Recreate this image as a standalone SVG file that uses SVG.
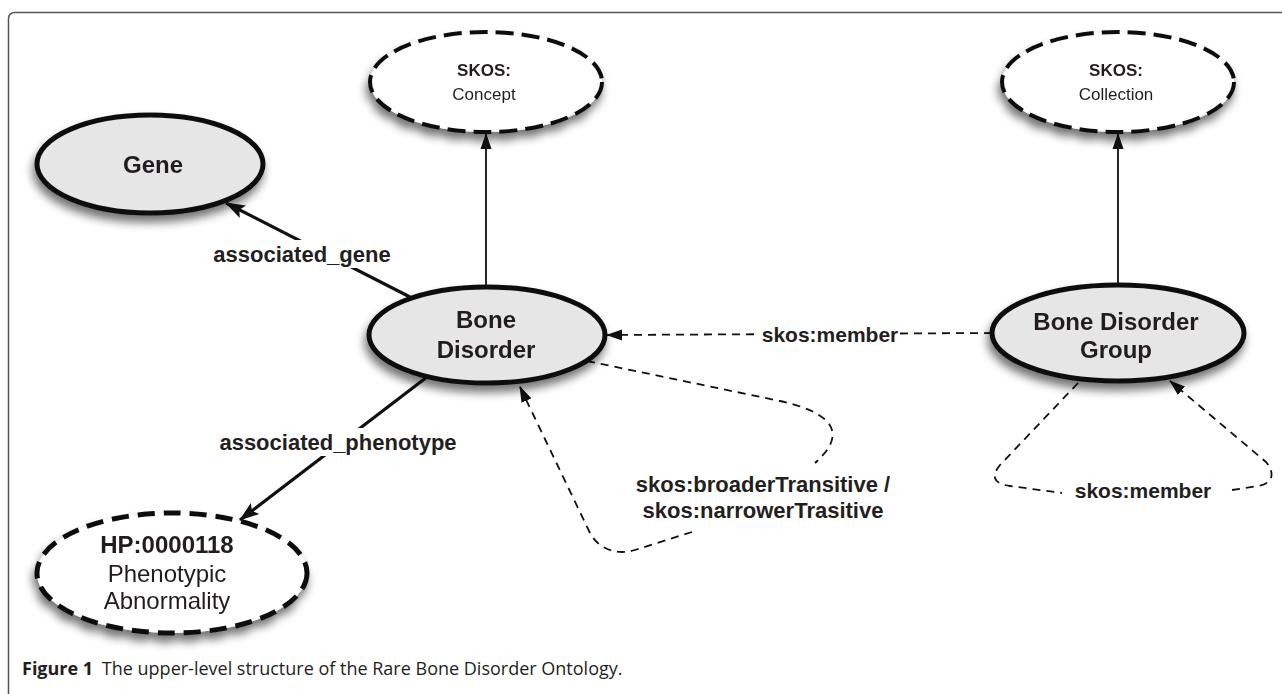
<svg xmlns="http://www.w3.org/2000/svg" width="1282" height="694" viewBox="0 0 1282 694">
<style>
.frame{fill:none;stroke:#555;stroke-width:1.5}
.solid{fill:#e6e6e6;stroke:#111;stroke-width:5}
.dash{fill:#fff;stroke:#111;stroke-width:4;stroke-dasharray:18 8}
.dashhp{fill:#fff;stroke:#111;stroke-width:5;stroke-dasharray:17 9}
.nt{font-family:"Liberation Sans",Arial,sans-serif;font-weight:bold;font-size:24px;fill:#231f20;text-anchor:middle}
.ntr{font-family:"Liberation Sans",Arial,sans-serif;font-size:24px;fill:#231f20;text-anchor:middle}
.st{font-family:"Liberation Sans",Arial,sans-serif;font-weight:bold;font-size:17px;fill:#231f20;text-anchor:middle}
.str{font-family:"Liberation Sans",Arial,sans-serif;font-size:17px;fill:#231f20;text-anchor:middle}
.lbl{font-family:"Liberation Sans",Arial,sans-serif;font-weight:bold;font-size:22px;fill:#231f20;text-anchor:middle}
.lbs{font-family:"Liberation Sans",Arial,sans-serif;font-weight:bold;font-size:21px;fill:#231f20;text-anchor:middle}
.thin{fill:none;stroke:#111;stroke-width:1.8}
.thick{fill:none;stroke:#111;stroke-width:3.2}
.dl{fill:none;stroke:#111;stroke-width:1.8;stroke-dasharray:8 6}
.cap{font-family:"Open Sans","Noto Sans",sans-serif;font-size:18px;fill:#231f20}
</style>
<defs>
<filter id="sh" x="-30%" y="-30%" width="160%" height="180%">
<feGaussianBlur in="SourceAlpha" stdDeviation="5"/>
<feOffset dx="-2" dy="7" result="b"/>
<feComponentTransfer><feFuncA type="linear" slope="0.55"/></feComponentTransfer>
<feMerge><feMergeNode/><feMergeNode in="SourceGraphic"/></feMerge>
</filter>
<marker id="ah" markerUnits="userSpaceOnUse" markerWidth="20" markerHeight="16" viewBox="0 0 20 16" refX="19" refY="8" orient="auto">
<path d="M0,1 L20,8 L0,15 L4,8 Z" fill="#111"/>
</marker>
<marker id="ahs" markerUnits="userSpaceOnUse" markerWidth="16" markerHeight="12" viewBox="0 0 16 12" refX="15" refY="6" orient="auto">
<path d="M0,0.5 L16,6 L0,11.5 Z" fill="#111"/>
</marker>
</defs>
<rect width="1282" height="694" fill="#fff"/>
<path class="frame" d="M8.5,694 L8.5,19 Q8.5,12.5 15,12.5 L1282,12.5"/>

<g id="connectors">
<line class="thin" x1="486" y1="287" x2="486" y2="134" marker-end="url(#ahs)"/>
<line class="thin" x1="1118" y1="285" x2="1118" y2="134" marker-end="url(#ahs)"/>
<line class="thick" x1="410" y1="297" x2="226" y2="203" marker-end="url(#ah)"/>
<line class="thick" x1="427" y1="377" x2="240" y2="520" marker-end="url(#ah)"/>
<line class="dl" x1="992" y1="333" x2="607" y2="335" marker-end="url(#ahs)"/>
<path class="dl" d="M587,361 L780,401 C830,412 850,432 815,463"/>
<path class="dl" d="M692,532 L635,550 C615,556 598,548 590,533 L520,387" marker-end="url(#ahs)"/>
<path class="dl" d="M1078,383 L1000,465 C990,477 995,484 1010,486 L1062,493"/>
<path class="dl" d="M1232,490 L1258,486 C1272,484 1276,474 1266,462 L1170,381" marker-end="url(#ahs)"/>
<rect x="212" y="240" width="180" height="28" fill="#fff"/>
<text class="lbl" x="302" y="262">associated_gene</text>
<rect x="216" y="428" width="244" height="28" fill="#fff"/>
<text class="lbl" x="338" y="450">associated_phenotype</text>
<rect x="760" y="320" width="140" height="28" fill="#fff"/>
<text class="lbs" x="830" y="342">skos:member</text>
<text class="lbs" x="1143" y="498">skos:member</text>
<text class="lbl" x="763" y="492">skos:broaderTransitive /</text>
<text class="lbl" x="763" y="518">skos:narrowerTrasitive</text>
</g>

<g id="concept" filter="url(#sh)">
<ellipse class="dash" cx="486" cy="82" rx="116" ry="50"/>
<text class="st" x="484" y="76">SKOS:</text>
<text class="str" x="484" y="100">Concept</text>
</g>
<g id="collection" filter="url(#sh)">
<ellipse class="dash" cx="1118" cy="82" rx="116" ry="50"/>
<text class="st" x="1116" y="76">SKOS:</text>
<text class="str" x="1116" y="100">Collection</text>
</g>
<g id="gene" filter="url(#sh)">
<ellipse class="solid" cx="150" cy="164" rx="113" ry="49"/>
<text class="nt" x="153" y="173">Gene</text>
</g>
<g id="bone-disorder" filter="url(#sh)">
<ellipse class="solid" cx="487" cy="335" rx="118" ry="48"/>
<text class="nt" x="486" y="328">Bone</text>
<text class="nt" x="486" y="358">Disorder</text>
</g>
<g id="bone-disorder-group" filter="url(#sh)">
<ellipse class="solid" cx="1118" cy="333" rx="126" ry="48"/>
<text class="nt" x="1116" y="330">Bone Disorder</text>
<text class="nt" x="1116" y="358">Group</text>
</g>
<g id="hp" filter="url(#sh)">
<ellipse class="dashhp" cx="172" cy="573" rx="135" ry="60"/>
<text class="nt" x="167" y="553">HP:0000118</text>
<text class="ntr" x="167" y="582">Phenotypic</text>
<text class="ntr" x="167" y="609">Abnormality</text>
</g>

<text class="cap" x="22" y="675"><tspan font-weight="bold">Figure 1</tspan><tspan dx="4"> The upper-level structure of the Rare Bone Disorder Ontology.</tspan></text>
</svg>
